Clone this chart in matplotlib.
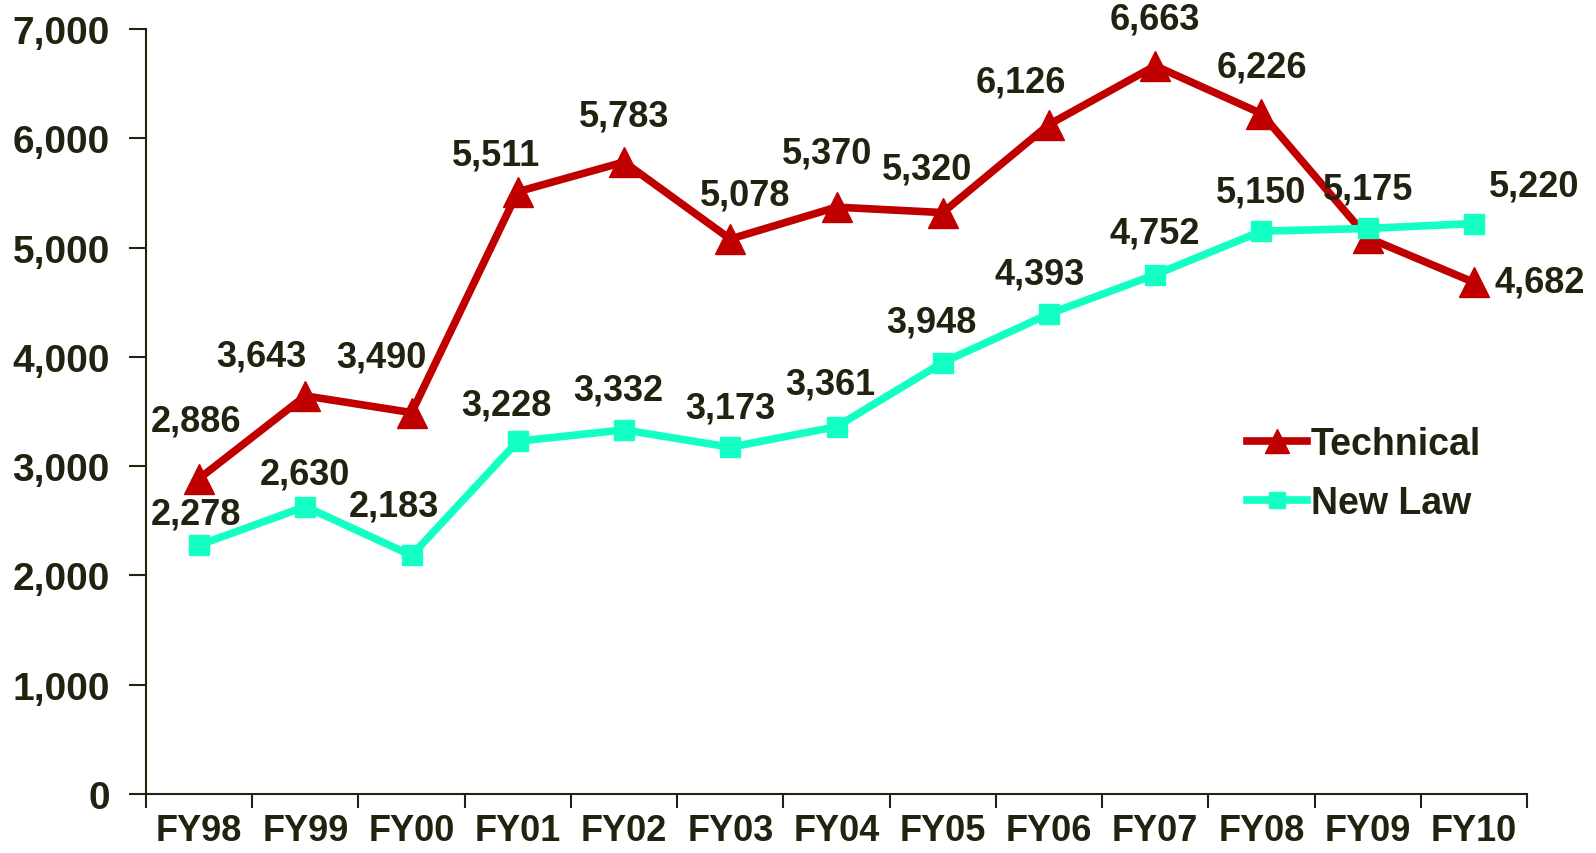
import matplotlib
matplotlib.use("Agg")
import matplotlib.pyplot as plt
import numpy as np

years = ["FY98", "FY99", "FY00", "FY01", "FY02", "FY03", "FY04",
         "FY05", "FY06", "FY07", "FY08", "FY09", "FY10"]
technical = [2886, 3643, 3490, 5511, 5783, 5078, 5370, 5320, 6126, 6663, 6226, 5090, 4682]
new_law = [2278, 2630, 2183, 3228, 3332, 3173, 3361, 3948, 4393, 4752, 5150, 5175, 5220]

# label offsets in pixels (dx, dy); None = no label
tech_off = [(-3, 58), (-44, 40), (-30, 56), (-22, 37), (0, 46), (15, 44), (-9, 54),
            (-16, 44), (-28, 43), (0, 47), (0, 47), None, (66, 0)]
law_off = [(-3, 31), (0, 33), (-18, 49), (-11, 36), (-6, 40), (0, 39), (-6, 43),
           (-11, 41), (-9, 40), (0, 42), (0, 39), (0, 39), (60, 38)]

TXT = "#222210"
RED = "#c00000"
AQUA = "#14ffc4"

plt.rcParams['font.family'] = ['Liberation Sans', 'DejaVu Sans']
plt.rcParams['font.weight'] = 'bold'

fig = plt.figure(figsize=(15.96, 8.54), dpi=100)
ax = fig.add_axes([146 / 1596, 59 / 854, (1527 - 146) / 1596, (795 - 30) / 854])

x = np.arange(len(years))
ax.plot(x, technical, color=RED, lw=5.5, marker="^", ms=21, label="Technical", zorder=3)
ax.plot(x, new_law, color=AQUA, lw=5.5, marker="s", ms=15, label="New Law", zorder=4)

for i in range(len(years)):
    if tech_off[i] is not None:
        ax.annotate(f"{technical[i]:,}", (x[i], technical[i]), xytext=tech_off[i],
                    textcoords="offset pixels", ha="center", va="center",
                    fontsize=26, fontweight="bold", color=TXT, zorder=5)
    ax.annotate(f"{new_law[i]:,}", (x[i], new_law[i]), xytext=law_off[i],
                textcoords="offset pixels", ha="center", va="center",
                fontsize=26, fontweight="bold", color=TXT, zorder=5)

ax.set_xlim(-0.5, len(years) - 0.5)
ax.set_ylim(0, 7000)
ax.set_yticks(range(0, 7001, 1000))
ax.set_yticklabels([f"{v:,}" for v in range(0, 7001, 1000)])
ax.set_xticks(x)
ax.set_xticklabels(years)
ax.set_xticks(np.arange(-0.5, len(years), 1), minor=True)
ax.tick_params(axis="x", which="major", length=0, pad=14)
ax.tick_params(axis="x", which="minor", length=10, width=1.5, color=TXT)
ax.tick_params(axis="y", length=12, width=1.5, color=TXT, pad=14)
for lab in ax.get_xticklabels():
    lab.set_fontsize(26)
    lab.set_fontweight("bold")
    lab.set_color(TXT)
for lab in ax.get_yticklabels():
    lab.set_fontsize(28)
    lab.set_fontweight("bold")
    lab.set_color(TXT)

for s in ["top", "right"]:
    ax.spines[s].set_visible(False)
for s in ["left", "bottom"]:
    ax.spines[s].set_color(TXT)
    ax.spines[s].set_linewidth(1.5)

leg = ax.legend(loc="upper left", bbox_to_anchor=(0.773, 0.525), frameon=False,
                fontsize=27, handlelength=1.6, handletextpad=0.1, labelspacing=0.6,
                markerscale=0.8)
for t in leg.get_texts():
    t.set_color(TXT)
    t.set_fontweight("bold")

fig.savefig("out.png", dpi=100)
